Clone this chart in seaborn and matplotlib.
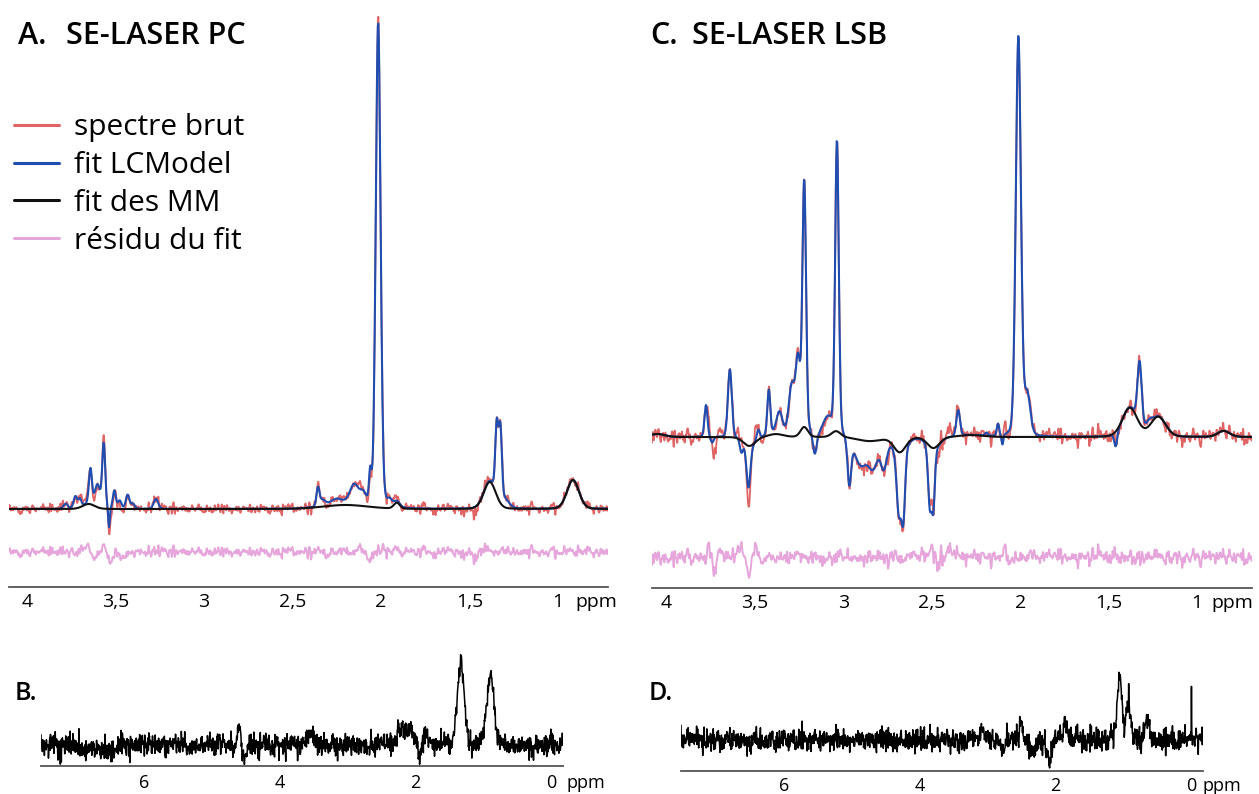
import numpy as np
import matplotlib.pyplot as plt
import seaborn as sns

# --- data (heights in pixels above the baseline) ---
# panel A: SE-LASER PC, metabolite peaks of the LCModel fit (ppm, height, half width)
a_met_ppm = [3.78, 3.725, 3.70, 3.64, 3.60, 3.565, 3.535, 3.505, 3.475, 3.43, 3.40, 3.27,
             2.355, 2.33, 2.25, 2.15, 2.10, 2.06, 2.015, 1.95, 1.345, 1.325, 1.30]
a_met_h = [5, 12, 8, 35, 22, 64, -20, 18, 8, 14, 5, 10,
           18, 6, 6, 20, 10, 30, 485, 6, 70, 70, 8]
a_met_w = [0.015, 0.012, 0.010, 0.010, 0.018, 0.010, 0.005, 0.010, 0.012, 0.012, 0.012, 0.015,
           0.010, 0.020, 0.040, 0.030, 0.020, 0.008, 0.016, 0.015, 0.010, 0.010, 0.030]
# macromolecule fit A
a_mm_ppm = [3.65, 2.20, 1.91, 1.385, 0.915]
a_mm_h = [5, 4, 6, 27, 29]
a_mm_w = [0.04, 0.15, 0.02, 0.04, 0.04]
# residual features A
a_res_ppm = [3.66, 3.62, 3.565, 3.53, 3.45, 2.35, 2.30, 2.12, 2.06, 1.99, 1.47, 1.40, 0.95]
a_res_h = [8, -6, 6, -12, -8, 5, -6, 6, -8, 7, -6, 5, 4]
a_res_w = [0.012, 0.012, 0.010, 0.010, 0.02, 0.01, 0.015, 0.012, 0.010, 0.008, 0.012, 0.012, 0.02]
a_noise = 4.0

# panel C: SE-LASER LSB
c_met_ppm = [3.775, 3.74, 3.64, 3.575, 3.535, 3.48, 3.42, 3.36, 3.29, 3.255, 3.22, 3.16,
             3.09, 3.035, 2.965, 2.90, 2.83, 2.77, 2.685, 2.66, 2.51, 2.49, 2.35, 2.19,
             2.125, 2.10, 2.01, 1.96, 1.46, 1.325, 1.27]
c_met_h = [32, -6, 68, -12, -42, 10, 45, 22, 50, 70, 245, -20,
           18, 290, -45, -25, -25, -28, -60, -65, -60, -55, 26, 3,
           12, -10, 400, 40, -15, 62, 6]
c_met_w = [0.010, 0.010, 0.013, 0.010, 0.013, 0.010, 0.010, 0.020, 0.020, 0.015, 0.012, 0.012,
           0.030, 0.012, 0.012, 0.040, 0.030, 0.020, 0.015, 0.012, 0.012, 0.010, 0.012, 0.010,
           0.008, 0.006, 0.017, 0.020, 0.010, 0.014, 0.020]
c_mm_ppm = [4.05, 3.53, 3.38, 3.22, 3.04, 2.85, 2.68, 2.49, 2.28, 1.38, 1.22, 0.85]
c_mm_h = [3, -9, 3, 10, 6, -4, -15, -11, 2, 29, 20, 6]
c_mm_w = [0.05, 0.04, 0.05, 0.025, 0.03, 0.08, 0.04, 0.04, 0.08, 0.05, 0.05, 0.04]
c_res_ppm = [3.76, 3.73, 3.70, 3.58, 3.535, 3.49, 2.50, 2.47, 2.40, 2.09, 2.06]
c_res_h = [10, -18, 6, 15, -20, 8, 15, -6, 8, 12, -6]
c_res_w = [0.01, 0.012, 0.01, 0.012, 0.012, 0.01, 0.006, 0.01, 0.008, 0.008, 0.01]
c_noise = 6.0

# panel B and D: macromolecule spectra
b_ppm = [4.60, 4.52, 3.56, 2.20, 2.05, 1.94, 1.85, 1.33, 0.89, 0.0, 6.75]
b_h = [20, -18, 10, 15, 12, -14, 10, 82, 70, 18, -6]
b_w = [0.03, 0.025, 0.08, 0.10, 0.05, 0.025, 0.04, 0.06, 0.06, 0.004, 0.30]
b_noise = 5.5
d_ppm = [3.07, 2.78, 2.51, 2.35, 2.10, 1.85, 1.06, 0.93, 0.66, 0.0]
d_h = [10, -13, 22, -14, -22, 12, 60, 38, 14, 46]
d_w = [0.05, 0.03, 0.02, 0.05, 0.04, 0.04, 0.04, 0.04, 0.04, 0.003]
d_noise = 5.5

a_ticks = [4, 3.5, 3, 2.5, 2, 1.5, 1]
a_ticklabels = ['4', '3,5', '3', '2,5', '2', '1,5', '1']
b_ticks = [6, 4, 2, 0]
b_ticklabels = ['6', '4', '2', '0']

legend_labels = ['spectre brut', 'fit LCModel', 'fit des MM', 'résidu du fit']
col_raw, col_fit, col_mm, col_res = '#e06464', '#1f4db0', '#111111', '#e6a6dc'

rng = np.random.default_rng(11)


def spectrum(x, ppm, h, w):
    out = np.zeros_like(x)
    for c, a, s in zip(ppm, h, w):
        u = (x - c) / s
        out += a * (0.85 * np.exp(-np.log(2) * u ** 2) + 0.15 / (1 + u ** 2))
    return out


def noise(n, sigma, smooth=True):
    z = rng.normal(0, sigma, n)
    if smooth:
        z = np.convolve(z, [0.25, 0.5, 0.25], mode='same')
    return z


sns.set_style('white')
plt.rcParams['font.family'] = ['Open Sans', 'DejaVu Sans']
plt.rcParams['text.color'] = 'black'

W, H = 1259, 794
fig = plt.figure(figsize=(W / 100, H / 100), dpi=100)


def px_axes(left, top, right, bottom):
    return fig.add_axes([left / W, 1 - bottom / H, (right - left) / W, (bottom - top) / H])


def style_axis(ax, ticks, labels, size, pad):
    for s in ['left', 'right', 'top']:
        ax.spines[s].set_visible(False)
    ax.spines['bottom'].set_color('#555555')
    ax.spines['bottom'].set_linewidth(1.3)
    ax.set_yticks([])
    ax.set_xticks(ticks)
    ax.set_xticklabels(labels)
    ax.tick_params(axis='x', direction='in', length=5, width=1.2, color='#555555',
                   labelsize=size, labelcolor='black', pad=pad)
    ax.set_xlabel('')
    ax.set_ylabel('')
    ax.patch.set_alpha(0)


def draw_fit_panel(ax, x, met, mm, res, sigma, res_off, with_labels):
    mm_line = spectrum(x, *mm)
    fit = mm_line + spectrum(x, *met)
    resid = spectrum(x, *res) + noise(len(x), sigma)
    raw = fit + resid
    traces = [(raw, col_raw, 1.3), (fit, col_fit, 1.5), (mm_line, col_mm, 1.5),
              (resid + res_off, col_res, 1.4)]
    for (y, c, lw), lab in zip(traces, legend_labels):
        sns.lineplot(x=x, y=y, ax=ax, color=c, lw=lw, estimator=None, sort=False,
                     label=lab if with_labels else None, legend=False)


# panel A
axA = px_axes(9, 5, 608, 587)
xA = np.linspace(4.10, 0.717, 1300)
draw_fit_panel(axA, xA, (a_met_ppm, a_met_h, a_met_w), (a_mm_ppm, a_mm_h, a_mm_w),
               (a_res_ppm, a_res_h, a_res_w), a_noise, -43, True)
axA.set_xlim(4.10, 0.717)
axA.set_ylim(-78, 504)
style_axis(axA, a_ticks, a_ticklabels, 14, 4)
leg = axA.legend(loc='upper left', bbox_to_anchor=(14 / W, 1 - 113 / H),
                 bbox_transform=fig.transFigure, frameon=False, prop={'size': 21.5},
                 handlelength=1.5, handletextpad=0.5, labelspacing=0.3, borderpad=0,
                 borderaxespad=0)
for line in leg.get_lines():
    line.set_linewidth(2.2)

# panel C
axC = px_axes(652, 5, 1252, 588)
xC = np.linspace(4.08, 0.69, 1300)
draw_fit_panel(axC, xC, (c_met_ppm, c_met_h, c_met_w), (c_mm_ppm, c_mm_h, c_mm_w),
               (c_res_ppm, c_res_h, c_res_w), c_noise, -120, False)
axC.set_xlim(4.08, 0.69)
axC.set_ylim(-151, 432)
style_axis(axC, a_ticks, a_ticklabels, 14, 4)

# panel B
axB = px_axes(41, 630, 563, 766)
xB = np.linspace(7.52, -0.18, 1541)
sns.lineplot(x=xB, y=spectrum(xB, b_ppm, b_h, b_w) + noise(len(xB), b_noise, False), ax=axB,
             color='black', lw=1.1, estimator=None, sort=False)
axB.set_xlim(7.52, -0.18)
axB.set_ylim(-21, 115)
style_axis(axB, b_ticks, b_ticklabels, 13, 6)

# panel D
axD = px_axes(681, 630, 1203, 771)
xD = np.linspace(7.52, -0.17, 1539)
sns.lineplot(x=xD, y=spectrum(xD, d_ppm, d_h, d_w) + noise(len(xD), d_noise, False), ax=axD,
             color='black', lw=1.1, estimator=None, sort=False)
axD.set_xlim(7.52, -0.17)
axD.set_ylim(-31, 110)
style_axis(axD, b_ticks, b_ticklabels, 13, 4)

# titles and unit labels
title_font = {'fontsize': 22, 'fontweight': 'semibold', 'va': 'baseline'}
fig.text(18 / W, 1 - 44 / H, 'A.', **title_font)
fig.text(66 / W, 1 - 44 / H, 'SE-LASER PC', **title_font)
fig.text(650 / W, 1 - 44 / H, 'C.', **title_font)
fig.text(692 / W, 1 - 44 / H, 'SE-LASER LSB', **title_font)
fig.text(15 / W, 1 - 700 / H, 'B.', fontsize=18, fontweight='semibold', va='baseline')
fig.text(649 / W, 1 - 700 / H, 'D.', fontsize=18, fontweight='semibold', va='baseline')
fig.text(575 / W, 1 - 602 / H, 'ppm', fontsize=14, va='center')
fig.text(1211 / W, 1 - 603 / H, 'ppm', fontsize=14, va='center')
fig.text(566 / W, 1 - 783 / H, 'ppm', fontsize=13, va='center')
fig.text(1203 / W, 1 - 786 / H, 'ppm', fontsize=13, va='center')

fig.savefig('out.png', dpi=100)
